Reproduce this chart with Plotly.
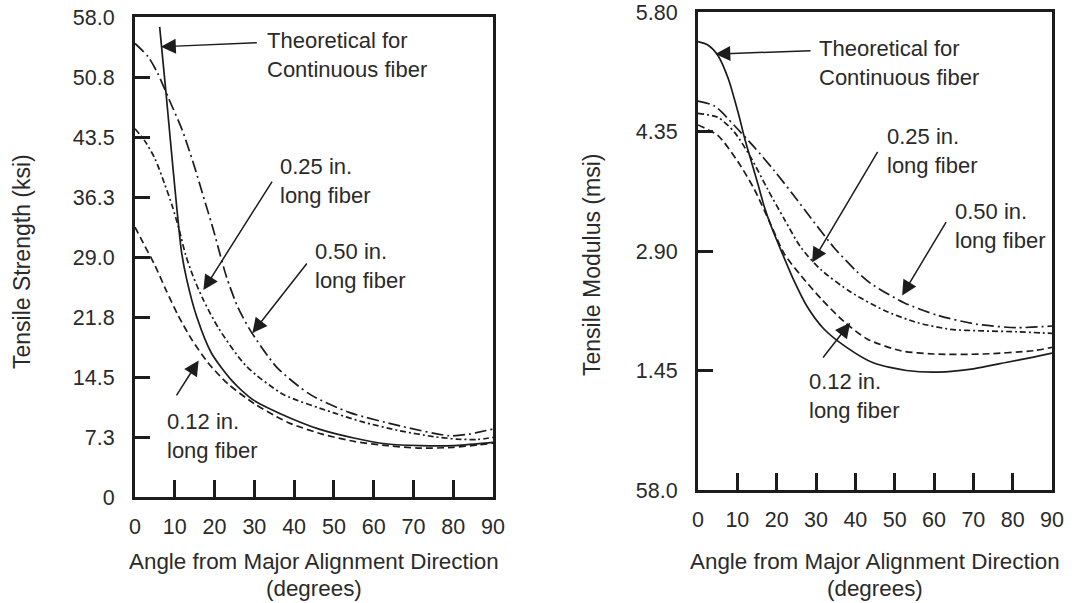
import plotly.graph_objects as go

W, H = 1088, 603

# ---------------- data: left panel (tensile strength, ksi) ----------------
strength_ticks = [0, 7.25, 14.5, 21.75, 29.0, 36.25, 43.5, 50.75, 58.0]
strength_ticktext = ["0", "7.3", "14.5", "21.8", "29.0", "36.3", "43.5", "50.8", "58.0"]
angle_ticks = [0, 10, 20, 30, 40, 50, 60, 70, 80, 90]

s_theo_angle = [6.2, 7.8, 9.3, 10.6, 11.7, 13.0, 15.5, 19.2, 24.3, 29.8, 36.4, 46.3, 55.3, 63.5, 71.6, 80.0, 88.0, 90.0]
s_theo = [56.8, 48.8, 41.0, 34.5, 29.6, 26.3, 21.8, 17.4, 14.1, 11.7, 10.1, 8.2, 7.1, 6.4, 6.2, 6.2, 6.5, 6.6]

s_050_angle = [0, 3.3, 5.7, 8.6, 11.9, 14.7, 17.2, 19.7, 21.0, 23.0, 25.8, 28.9, 35.6, 44.0, 54.0, 66.6, 79.0, 84.0, 88.0, 90.0]
s_050 = [54.8, 53.2, 51.2, 48.0, 44.3, 40.3, 36.3, 32.3, 30.0, 26.6, 23.0, 20.2, 15.7, 12.4, 10.2, 8.6, 7.4, 7.6, 8.0, 8.2]

s_025_angle = [0, 2.5, 5.0, 7.4, 9.4, 11.1, 12.7, 14.5, 17.0, 21.0, 28.0, 37.3, 49.8, 57.0, 66.6, 75.0, 80.8, 86.0, 90.0]
s_025 = [44.5, 43.0, 40.9, 37.9, 35.1, 32.3, 29.3, 26.8, 24.0, 20.4, 15.8, 12.4, 10.2, 9.1, 8.0, 7.3, 7.0, 6.95, 7.2]

s_012_angle = [0, 2.5, 5.0, 7.8, 11.0, 14.3, 18.4, 23.3, 29.9, 35.6, 39.0, 47.0, 55.3, 63.5, 71.6, 80.0, 86.4, 90.0]
s_012 = [32.6, 30.3, 28.0, 25.0, 21.8, 19.0, 16.2, 13.7, 11.3, 9.7, 8.9, 7.6, 6.7, 6.2, 5.9, 6.0, 6.3, 6.5]

# ---------------- data: right panel (tensile modulus, msi) ----------------
modulus_ticks = [0, 1.45, 2.90, 4.35, 5.80]
modulus_ticktext = ["58.0", "1.45", "2.90", "4.35", "5.80"]

m_theo_angle = [0, 2.5, 5.1, 7.7, 10.2, 11.9, 13.6, 15.3, 16.9, 18.6, 21.0, 24.4, 27.7, 31.9, 37.5, 44.7, 53.0, 61.0, 70.0, 78.6, 85.0, 90.0]
m_theo = [5.44, 5.40, 5.27, 4.99, 4.58, 4.26, 3.98, 3.70, 3.43, 3.20, 2.92, 2.54, 2.23, 1.96, 1.74, 1.54, 1.45, 1.43, 1.47, 1.55, 1.61, 1.66]

m_050_angle = [0, 4.2, 9.3, 14.3, 19.3, 24.4, 28.7, 34.6, 40.4, 44.1, 52.5, 60.9, 71.0, 81.0, 90.0]
m_050 = [4.72, 4.66, 4.42, 4.16, 3.88, 3.57, 3.30, 2.94, 2.65, 2.50, 2.27, 2.12, 2.01, 1.97, 1.99]

m_025_angle = [0, 5.1, 9.3, 13.6, 17.7, 21.9, 26.2, 31.3, 38.9, 47.3, 55.8, 64.2, 72.5, 81.0, 90.0]
m_025 = [4.57, 4.52, 4.34, 4.02, 3.65, 3.29, 2.94, 2.67, 2.40, 2.18, 2.03, 1.95, 1.93, 1.92, 1.90]

m_012_angle = [0, 5.1, 10.2, 14.3, 18.6, 22.0, 26.2, 31.3, 37.2, 43.1, 51.5, 59.9, 72.5, 85.2, 90.0]
m_012 = [4.43, 4.30, 3.98, 3.65, 3.21, 2.86, 2.60, 2.32, 2.04, 1.83, 1.69, 1.65, 1.65, 1.69, 1.73]

# ---------------- styling ----------------
FONT = "Liberation Sans, Arial, Helvetica, sans-serif"
INK = "#1c1c1c"
TXT = "#2a2a2a"
LW = 1.7
styles = {
    "theo": dict(color=INK, width=LW, dash="solid"),
    "050": dict(color=INK, width=LW, dash="12px,4px,2px,4px"),
    "025": dict(color=INK, width=LW, dash="6px,3px,2px,3px"),
    "012": dict(color=INK, width=LW, dash="7px,4px"),
}

fig = go.Figure()

def add(x, y, key, xa, ya):
    fig.add_trace(go.Scatter(x=x, y=y, mode="lines", xaxis=xa, yaxis=ya,
                             line=dict(shape="spline", smoothing=0.7, **styles[key]),
                             showlegend=False, hoverinfo="skip"))

add(s_theo_angle, s_theo, "theo", "x", "y")
add(s_050_angle, s_050, "050", "x", "y")
add(s_025_angle, s_025, "025", "x", "y")
add(s_012_angle, s_012, "012", "x", "y")
add(m_theo_angle, m_theo, "theo", "x2", "y2")
add(m_050_angle, m_050, "050", "x2", "y2")
add(m_025_angle, m_025, "025", "x2", "y2")
add(m_012_angle, m_012, "012", "x2", "y2")

def px2x(p):
    return p / W

def px2y(p):
    return 1 - p / H

common_x = dict(range=[0, 90], tickvals=angle_ticks, ticks="inside", ticklen=17, tickwidth=2.5,
                tickcolor=INK, showline=True, linewidth=3, linecolor=INK, mirror=True,
                showgrid=False, zeroline=False, automargin=False,
                tickfont=dict(family=FONT, size=21.5, color=TXT), ticklabelstandoff=8)
common_y = dict(ticks="inside", ticklen=15, tickwidth=2.5, tickcolor=INK, showline=True,
                linewidth=3, linecolor=INK, mirror=True, showgrid=False, zeroline=False,
                automargin=False, tickfont=dict(family=FONT, size=21.5, color=TXT),
                ticklabelstandoff=13)

fig.update_layout(
    width=W, height=H, margin=dict(l=0, r=0, t=0, b=0),
    paper_bgcolor="white", plot_bgcolor="white",
    xaxis=dict(domain=[px2x(135), px2x(493)], anchor="y", **common_x),
    yaxis=dict(domain=[px2y(497), px2y(17)], anchor="x", range=[0, 58],
               tickvals=strength_ticks, ticktext=strength_ticktext, **common_y),
    xaxis2=dict(domain=[px2x(698), px2x(1052)], anchor="y2", **common_x),
    yaxis2=dict(domain=[px2y(490), px2y(12)], anchor="x2", range=[0, 5.8],
                tickvals=modulus_ticks, ticktext=modulus_ticktext, **common_y),
)

ann = []
tfont = dict(family=FONT, size=22.4, color=TXT)
yfont = dict(family=FONT, size=23, color=TXT)
# axis titles
ann.append(dict(text="Tensile Strength (ksi)", x=px2x(22), y=px2y(262), xref="paper", yref="paper",
                textangle=-90, showarrow=False, font=yfont, xanchor="center", yanchor="middle"))
ann.append(dict(text="Tensile Modulus (msi)", x=px2x(592), y=px2y(265), xref="paper", yref="paper",
                textangle=-90, showarrow=False, font=yfont, xanchor="center", yanchor="middle"))
for cx in (314, 875):
    ann.append(dict(text="Angle from Major Alignment Direction", x=px2x(cx), y=px2y(561),
                    xref="paper", yref="paper", showarrow=False, font=tfont,
                    xanchor="center", yanchor="middle"))
    ann.append(dict(text="(degrees)", x=px2x(cx), y=px2y(588),
                    xref="paper", yref="paper", showarrow=False, font=tfont,
                    xanchor="center", yanchor="middle"))

# curve labels (text): left edge x, centre y in pixels
labels = [
    ("Theoretical for<br>Continuous fiber", 265, 55),
    ("0.25 in.<br>long fiber", 278, 181),
    ("0.50 in.<br>long fiber", 313, 266),
    ("0.12 in.<br>long fiber", 165, 436),
    ("Theoretical for<br>Continuous fiber", 817, 63),
    ("0.25 in.<br>long fiber", 885, 151),
    ("0.50 in.<br>long fiber", 953, 226),
    ("0.12 in.<br>long fiber", 807, 396),
]
afont = dict(family=FONT, size=22, color=TXT)
for t, px, py in labels:
    ann.append(dict(text=t, x=px2x(px), y=px2y(py), xref="paper", yref="paper", showarrow=False,
                    font=afont, xanchor="left", yanchor="middle", align="left"))

# arrows: (tail_x, tail_y, tip_x, tip_y, axis) in data units
arrows = [
    (31.0, 54.9, 6.5, 54.4, "1"),
    (34.7, 38.3, 17.2, 25.0, "1"),
    (43.5, 28.4, 29.5, 19.8, "1"),
    (10.2, 12.1, 16.0, 16.5, "1"),
    (29.0, 5.33, 4.4, 5.29, "2"),
    (45.9, 4.12, 29.0, 2.76, "2"),
    (63.3, 3.27, 51.9, 2.36, "2"),
    (31.5, 1.59, 38.7, 2.03, "2"),
]
for tx, ty, hx, hy, a in arrows:
    xr = "x" if a == "1" else "x2"
    yr = "y" if a == "1" else "y2"
    ann.append(dict(text="", x=hx, y=hy, xref=xr, yref=yr, ax=tx, ay=ty, axref=xr, ayref=yr,
                    showarrow=True, arrowhead=2, arrowsize=2.0, arrowwidth=1.5, arrowcolor=INK,
                    standoff=0, startstandoff=0))

fig.update_layout(annotations=ann)
fig.write_html("out.html", config={"displayModeBar": False},
               post_script="document.body.style.margin='0px';document.body.style.padding='0px';")
